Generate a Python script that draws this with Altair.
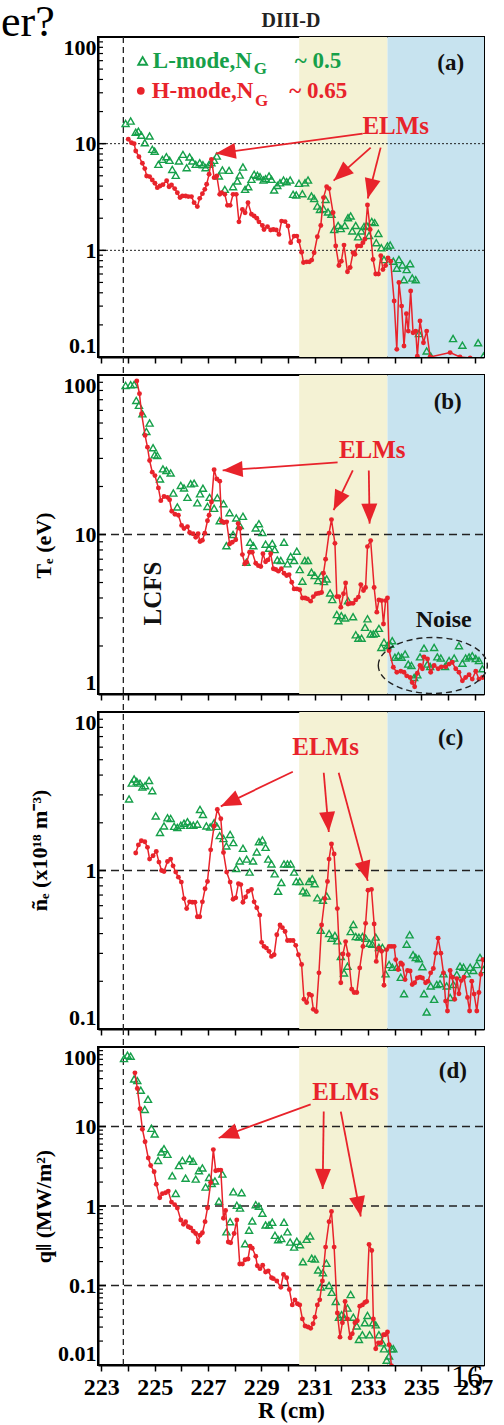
import math
import altair as alt
import pandas as pd

FONT = "Liberation Serif"
GREEN = "#16a04a"
RED = "#e8232b"
YELLOW = "#f4f2d4"
BLUE = "#c7e3ef"
BLACK = "#111111"

R_TICKS = list(range(223, 238))
X_RANGE = [222.875, 237.35]
SHADE_YELLOW = [230.42, 233.73]
SHADE_BLUE = [233.73, 237.35]
LCFS_R = 223.825

# ---------------- panel (a) ----------------
A_L = [(223.91,15.5),(224.10,16.3),(224.29,12.8),(224.39,13.1),(224.50,12.0),(224.63,10.2),(224.81,11.8),(224.91,8.85),(225.00,8.5),(225.14,6.4),(225.29,7.13),(225.44,7.55),(225.56,6.98),(225.66,5.74),(225.79,5.05),(225.91,6.88),(226.06,7.94),(226.20,5.96),(226.31,7.5),(226.41,6.88),(226.54,6.4),(226.69,6.63),(226.81,6.36),(226.91,5.96),(227.04,6.4),(227.13,6.63),(227.23,6.98),(227.33,7.66),(227.41,4.98),(227.54,5.66),(227.63,3.73),(227.79,5.62),(227.94,3.95),(228.10,4.47),(228.19,5.08),(228.31,6.04),(228.39,3.73),(228.51,3.95),(228.63,4.63),(228.73,5.16),(228.85,5.05),(228.95,4.91),(229.08,4.56),(229.16,4.7),(229.29,4.98),(229.38,4.63),(229.48,3.68),(229.60,4.06),(229.70,4.3),(229.83,4.56),(229.95,4.4),(230.08,4.56),(230.19,3.35),(230.31,3.3),(230.41,4.25),(230.54,3.4),(230.64,4.3),(230.75,4.56),(230.88,3.23),(230.98,3.07),(231.10,2.6),(231.20,2.42),(231.33,2.46),(231.41,3.0),(231.50,2.29),(231.63,2.18),(231.73,1.57),(231.88,1.71),(231.98,1.6),(232.13,1.71),(232.25,2.02),(232.35,2.1),(232.41,1.52),(232.54,1.71),(232.63,1.34),(232.75,1.52),(232.85,1.67),(232.95,1.71),(233.04,1.38),(233.14,1.86),(233.25,1.82),(233.31,1.18),(233.39,1.44),(233.50,1.06),(233.60,0.82),(233.73,1.1),(233.83,1.12),(233.95,0.79),(234.08,0.68),(234.16,0.82),(234.29,0.73),(234.35,0.53),(234.45,0.66),(234.58,0.75),(234.66,0.55),(234.79,0.53),(234.91,0.166),(235.20,0.114),(235.35,0.102),(236.19,0.149),(236.54,0.129),(237.13,0.136),(237.33,0.102)]
A_H = [(224.01,11.0),(224.13,10.2),(224.23,10.0),(224.29,8.54),(224.41,7.55),(224.54,6.55),(224.63,5.84),(224.70,4.98),(224.81,4.91),(224.91,4.56),(225.01,4.25),(225.10,3.87),(225.20,4.01),(225.31,4.13),(225.45,4.5),(225.54,3.95),(225.63,4.1),(225.75,3.79),(225.85,3.47),(225.95,3.12),(226.04,3.23),(226.16,3.23),(226.26,3.19),(226.38,3.19),(226.48,2.8),(226.60,2.57),(226.69,3.07),(226.79,3.4),(226.88,3.73),(226.95,4.16),(227.04,5.16),(227.13,7.13),(227.23,4.8),(227.33,4.98),(227.44,3.35),(227.51,3.47),(227.63,3.35),(227.73,2.64),(227.83,2.64),(227.94,3.35),(228.06,3.35),(228.16,1.85),(228.29,2.42),(228.39,2.25),(228.50,2.8),(228.63,2.18),(228.73,2.1),(228.83,2.0),(228.91,1.85),(229.04,1.71),(229.10,1.57),(229.23,1.67),(229.35,1.55),(229.45,1.57),(229.56,1.55),(229.66,1.41),(229.76,1.88),(229.89,1.86),(230.00,1.69),(230.10,1.18),(230.23,1.36),(230.33,1.36),(230.41,1.22),(230.51,0.96),(230.58,0.77),(230.70,0.78),(230.80,0.78),(230.89,0.81),(230.98,0.95),(231.10,1.34),(231.23,1.71),(231.33,3.12),(231.45,3.95),(231.54,3.79),(231.69,2.25),(231.79,1.1),(231.91,0.72),(232.00,0.79),(232.10,1.12),(232.23,0.63),(232.33,0.69),(232.44,0.95),(232.51,0.92),(232.60,1.1),(232.73,1.1),(232.81,1.18),(232.88,1.27),(232.98,2.66),(233.08,1.57),(233.19,0.82),(233.29,0.6),(233.39,0.6),(233.48,0.89),(233.56,0.66),(233.66,0.72),(233.75,0.85),(233.85,0.79),(233.98,0.335),(234.08,0.118),(234.16,0.5),(234.26,0.30),(234.35,0.127),(234.44,0.255),(234.51,0.175),(234.60,0.416),(234.69,0.169),(234.79,0.175),(234.85,0.102),(234.95,0.218),(235.08,0.136),(235.20,0.175),(235.33,0.10),(236.08,0.11),(236.45,0.10),(236.83,0.098)]

# ---------------- panel (b) Te ----------------
B_L = [(223.91,86),(224.10,87),(224.23,87.3),(224.31,69.3),(224.41,64.6),(224.54,57.1),(224.69,44.3),(224.81,50),(224.94,35),(225.00,31.6),(225.10,31.3),(225.20,22.3),(225.31,25.8),(225.44,25.2),(225.60,24.3),(225.70,18.2),(225.85,14.9),(225.98,20.3),(226.10,19.6),(226.23,17.1),(226.35,20.8),(226.48,21.0),(226.60,15.8),(226.70,18.0),(226.81,19.5),(226.98,15.0),(227.06,17.1),(227.23,14.6),(227.35,17.0),(227.44,12.2),(227.58,15.6),(227.69,8.5),(227.81,13.7),(227.94,10.0),(228.06,12.7),(228.19,11.4),(228.31,13.0),(228.44,6.7),(228.58,8.95),(228.70,8.5),(228.79,11.0),(228.91,11.7),(229.04,10.3),(229.16,8.7),(229.29,8.2),(229.41,8.8),(229.50,8.05),(229.60,6.93),(229.73,6.87),(229.85,8.95),(229.98,6.55),(230.10,7.28),(230.23,6.87),(230.33,7.86),(230.44,6.03),(230.54,5.1),(230.63,6.87),(230.75,6.87),(230.88,5.8),(231.00,5.53),(231.13,5.14),(231.25,5.53),(231.35,5.07),(231.45,5.27),(231.58,4.3),(231.66,3.91),(231.83,3.15),(231.89,2.88),(232.00,3.1),(232.14,3.0),(232.25,3.85),(232.44,3.05),(232.54,2.35),(232.64,2.24),(232.76,2.24),(232.89,2.62),(232.98,2.96),(233.10,2.38),(233.20,2.38),(233.29,2.4),(233.41,2.58),(233.50,1.96),(233.60,2.11),(233.73,2.01),(233.83,2.05),(233.91,2.16),(234.01,1.7),(234.14,1.74),(234.26,1.7),(234.39,1.78),(234.51,1.54),(234.63,1.51),(234.73,1.27),(234.85,1.32),(234.95,1.71),(235.10,1.94),(235.23,1.54),(235.33,1.49),(235.48,1.96),(235.60,1.71),(235.73,1.68),(235.89,1.49),(236.04,1.62),(236.23,1.68),(236.41,2.01),(236.54,1.56),(236.66,1.68),(236.79,1.71),(236.91,1.74),(237.04,1.67),(237.16,1.62),(237.29,1.44)]
B_H = [(224.33,91.7),(224.43,76.4),(224.51,57.1),(224.64,41.8),(224.73,35.3),(224.81,29.1),(224.91,24.6),(225.01,23.4),(225.14,19.6),(225.23,16.3),(225.35,17.3),(225.48,17.1),(225.56,16.5),(225.64,14.0),(225.76,13.4),(225.89,13.2),(226.01,11.4),(226.10,10.9),(226.23,11.2),(226.31,10.3),(226.44,10.1),(226.54,9.6),(226.63,10.1),(226.70,9.04),(226.79,9.2),(226.88,10.2),(226.98,12.2),(227.04,13.2),(227.13,16.0),(227.23,25.5),(227.33,22.3),(227.44,21.6),(227.51,12.1),(227.60,11.9),(227.70,12.0),(227.81,8.72),(227.91,8.95),(228.04,9.27),(228.13,11.7),(228.20,10.9),(228.29,7.48),(228.38,6.55),(228.45,6.7),(228.56,7.74),(228.66,7.74),(228.79,6.6),(228.89,6.38),(228.98,6.3),(229.06,7.57),(229.16,6.75),(229.25,6.93),(229.35,7.57),(229.45,6.1),(229.54,6.03),(229.64,5.89),(229.75,6.1),(229.85,5.71),(229.95,5.53),(230.04,5.6),(230.14,5.02),(230.23,4.56),(230.33,4.56),(230.44,4.5),(230.54,4.0),(230.64,4.0),(230.73,3.95),(230.85,3.82),(230.95,4.08),(231.06,4.25),(231.16,4.28),(231.26,4.33),(231.33,5.71),(231.41,7.0),(231.54,10.2),(231.63,12.4),(231.76,8.8),(231.83,4.08),(231.91,4.08),(231.98,3.5),(232.08,4.25),(232.16,4.96),(232.25,3.67),(232.35,3.7),(232.44,3.7),(232.54,3.89),(232.64,4.05),(232.73,4.85),(232.83,4.46),(232.91,4.65),(232.98,8.4),(233.10,9.16),(233.23,4.65),(233.33,3.26),(233.41,3.89),(233.51,3.85),(233.58,2.75),(233.66,3.85),(233.73,4.0),(233.79,1.87),(233.95,1.47),(234.08,1.37),(234.23,1.39),(234.35,1.37),(234.45,1.3),(234.58,1.27),(234.66,1.18),(234.75,1.11),(234.85,1.35),(234.95,1.51),(235.04,1.44),(235.10,1.71),(235.23,1.66),(235.35,1.37),(235.48,1.51),(235.63,1.44),(235.75,1.48),(235.91,1.48),(236.04,1.54),(236.16,1.58),(236.29,1.44),(236.41,1.37),(236.54,1.21),(236.66,1.27),(236.79,1.32),(236.91,1.24),(237.04,1.39),(237.16,1.24),(237.29,1.27)]

# ---------------- panel (c) n_e fluctuation ----------------
C_L = [(224.04,2.83),(224.14,3.56),(224.23,3.78),(224.33,3.65),(224.45,3.56),(224.54,3.36),(224.64,3.43),(224.79,3.7),(224.91,3.19),(225.04,2.21),(225.20,1.74),(225.35,1.91),(225.48,2.15),(225.60,2.13),(225.73,1.9),(225.85,1.87),(225.98,1.93),(226.10,1.99),(226.23,2.03),(226.33,1.93),(226.45,1.93),(226.60,1.96),(226.70,2.43),(226.81,2.26),(226.94,1.91),(227.08,1.88),(227.23,2.0),(227.33,1.9),(227.44,1.66),(227.58,1.59),(227.69,1.43),(227.83,1.69),(227.95,1.5),(228.06,1.03),(228.19,1.15),(228.31,1.38),(228.45,1.18),(228.56,0.977),(228.69,1.15),(228.83,1.31),(228.91,1.52),(229.04,1.56),(229.16,1.4),(229.26,1.18),(229.38,1.1),(229.50,0.953),(229.63,0.74),(229.75,0.84),(229.85,1.1),(229.98,1.1),(230.10,1.1),(230.23,0.977),(230.31,0.853),(230.44,0.853),(230.56,0.743),(230.69,0.725),(230.79,0.853),(230.91,0.887),(231.00,0.826),(231.10,0.672),(231.23,0.42),(231.31,0.65),(231.45,0.69),(231.54,0.40),(231.63,0.374),(231.76,0.389),(231.85,0.36),(231.98,0.287),(232.10,0.226),(232.23,0.249),(232.35,0.412),(232.45,0.457),(232.54,0.383),(232.66,0.38),(232.79,0.383),(232.91,0.374),(233.06,0.348),(233.16,0.343),(233.29,0.38),(233.41,0.327),(233.54,0.327),(233.66,0.223),(233.79,0.255),(233.91,0.245),(234.08,0.245),(234.23,0.212),(234.35,0.167),(234.45,0.343),(234.56,0.393),(234.69,0.294),(234.79,0.283),(234.91,0.278),(235.04,0.247),(235.10,0.167),(235.20,0.128),(235.35,0.187),(235.48,0.154),(235.58,0.191),(235.70,0.193),(235.83,0.223),(235.95,0.187),(236.08,0.158),(236.20,0.191),(236.33,0.221),(236.45,0.249),(236.58,0.245),(236.70,0.223),(236.83,0.245),(236.95,0.234),(237.08,0.255),(237.20,0.283),(237.33,0.237)]
C_H = [(224.29,1.29),(224.39,1.45),(224.50,1.54),(224.63,1.52),(224.73,1.4),(224.81,1.18),(224.94,1.24),(225.06,1.32),(225.16,1.13),(225.26,1.0),(225.35,0.986),(225.48,1.14),(225.60,1.18),(225.69,1.07),(225.79,0.977),(225.89,0.908),(226.00,0.845),(226.10,0.665),(226.20,0.575),(226.31,0.634),(226.41,0.63),(226.51,0.63),(226.60,0.511),(226.69,0.511),(226.79,0.634),(226.89,0.767),(226.98,0.853),(227.10,1.35),(227.23,1.91),(227.35,2.43),(227.48,2.12),(227.58,1.3),(227.70,0.977),(227.83,0.845),(227.94,0.659),(228.04,0.672),(228.14,0.826),(228.23,0.815),(228.31,0.63),(228.41,0.681),(228.51,0.74),(228.63,0.76),(228.73,0.634),(228.83,0.582),(228.94,0.523),(229.01,0.352),(229.10,0.332),(229.19,0.324),(229.29,0.309),(229.38,0.287),(229.48,0.294),(229.58,0.393),(229.70,0.453),(229.79,0.436),(229.89,0.412),(229.98,0.362),(230.08,0.362),(230.19,0.362),(230.29,0.337),(230.39,0.294),(230.51,0.255),(230.60,0.154),(230.70,0.147),(230.79,0.166),(230.88,0.163),(230.95,0.133),(231.06,0.129),(231.16,0.226),(231.26,0.453),(231.38,0.665),(231.48,0.853),(231.54,1.18),(231.63,1.47),(231.73,1.27),(231.85,0.575),(231.98,0.196),(232.06,0.297),(232.16,0.356),(232.26,0.294),(232.39,0.178),(232.48,0.17),(232.58,0.17),(232.69,0.243),(232.81,0.332),(232.91,0.464),(233.00,0.75),(233.13,0.76),(233.23,0.46),(233.31,0.267),(233.41,0.324),(233.51,0.309),(233.60,0.189),(233.70,0.317),(233.79,0.332),(233.88,0.332),(233.98,0.332),(234.04,0.274),(234.13,0.237),(234.23,0.261),(234.29,0.255),(234.39,0.205),(234.48,0.234),(234.58,0.232),(234.66,0.191),(234.75,0.196),(234.85,0.21),(234.95,0.212),(235.04,0.21),(235.16,0.196),(235.25,0.2),(235.35,0.226),(235.45,0.241),(235.54,0.301),(235.63,0.374),(235.73,0.301),(235.83,0.226),(235.91,0.15),(235.98,0.13),(236.08,0.234),(236.16,0.212),(236.25,0.154),(236.33,0.208),(236.41,0.167),(236.50,0.202),(236.60,0.212),(236.73,0.158),(236.81,0.13),(236.89,0.2),(236.98,0.166),(237.08,0.13),(237.16,0.17),(237.23,0.221),(237.31,0.274)]

# ---------------- panel (d) q_par ----------------
D_L = [(223.85,71.6),(223.98,78.8),(224.10,76.7),(224.23,39.6),(224.35,37.8),(224.48,28.6),(224.63,16.4),(224.75,22.0),(224.88,9.5),(225.00,8.05),(225.13,3.74),(225.25,4.78),(225.35,5.27),(225.48,4.47),(225.66,2.4),(225.79,1.44),(225.91,3.23),(226.04,3.74),(226.16,2.24),(226.31,3.93),(226.44,3.66),(226.54,2.18),(226.66,2.78),(226.79,3.01),(226.91,1.73),(227.04,2.29),(227.14,1.92),(227.26,2.07),(227.41,1.15),(227.54,2.52),(227.69,0.473),(227.83,0.636),(227.95,1.51),(228.08,1.02),(228.20,0.943),(228.26,1.47),(228.39,0.336),(228.54,0.497),(228.66,0.649),(228.79,1.04),(228.91,0.994),(229.04,0.813),(229.16,0.577),(229.29,0.577),(229.41,0.624),(229.51,0.428),(229.63,0.377),(229.75,0.389),(229.85,0.624),(229.98,0.473),(230.08,0.352),(230.23,0.304),(230.33,0.36),(230.45,0.326),(230.56,0.199),(230.70,0.381),(230.83,0.421),(230.89,0.22),(231.01,0.215),(231.13,0.157),(231.23,0.096),(231.31,0.145),(231.44,0.191),(231.54,0.1),(231.64,0.082),(231.79,0.063),(231.91,0.040),(232.01,0.043),(232.10,0.040),(232.23,0.052),(232.35,0.077),(232.45,0.040),(232.58,0.031),(232.66,0.021),(232.79,0.024),(232.88,0.034),(232.98,0.042),(233.06,0.024),(233.19,0.034),(233.29,0.032),(233.41,0.024),(233.54,0.019),(233.60,0.016),(233.70,0.0115),(233.79,0.013),(233.88,0.016),(233.95,0.016)]
D_H = [(224.26,47.3),(224.35,30.1),(224.45,16.7),(224.54,9.24),(224.64,6.43),(224.76,4.01),(224.85,3.23),(224.98,2.7),(225.06,1.88),(225.19,1.27),(225.29,1.43),(225.41,1.47),(225.51,1.54),(225.63,1.12),(225.75,1.04),(225.85,0.943),(225.98,0.668),(226.08,0.588),(226.16,0.636),(226.26,0.548),(226.35,0.53),(226.45,0.483),(226.54,0.451),(226.63,0.352),(226.70,0.428),(226.79,0.46),(226.89,0.636),(226.98,0.943),(227.10,1.97),(227.20,5.12),(227.29,2.78),(227.39,2.83),(227.48,2.83),(227.58,0.701),(227.66,0.879),(227.76,0.352),(227.85,0.345),(227.98,0.451),(228.08,0.668),(228.19,0.186),(228.29,0.186),(228.39,0.211),(228.50,0.215),(228.58,0.313),(228.66,0.294),(228.79,0.233),(228.85,0.177),(228.95,0.163),(229.05,0.18),(229.16,0.148),(229.26,0.152),(229.38,0.125),(229.45,0.122),(229.58,0.114),(229.73,0.095),(229.83,0.138),(229.95,0.125),(230.05,0.089),(230.16,0.057),(230.26,0.066),(230.35,0.059),(230.44,0.057),(230.54,0.038),(230.64,0.031),(230.75,0.030),(230.85,0.029),(230.94,0.033),(231.01,0.040),(231.10,0.057),(231.19,0.066),(231.29,0.114),(231.41,0.304),(231.54,0.636),(231.63,0.855),(231.73,0.304),(231.85,0.045),(231.95,0.0224),(232.04,0.034),(232.14,0.063),(232.23,0.038),(232.33,0.022),(232.41,0.0247),(232.51,0.034),(232.60,0.036),(232.69,0.055),(232.79,0.057),(232.88,0.061),(232.95,0.063),(233.04,0.329),(233.14,0.275),(233.20,0.038),(233.29,0.016),(233.39,0.019),(233.48,0.019),(233.58,0.024),(233.64,0.024),(233.73,0.026),(233.79,0.018),(233.88,0.0098)]

# arrows: (R_start, v_start, R_tip, v_tip)
ARROWS_A = [(232.8,12.4,227.29,8.07),(233.1,9.18,231.71,4.5),(233.475,9.18,232.99,3.06)]
ARROWS_B = [(231.86,28.3,227.55,25.2),(232.43,25.2,231.71,14.2),(233.03,25.2,233.06,11.7)]
ARROWS_C = [(230.18,4.2,227.48,2.54),(231.34,4.14,231.53,1.75),(231.9,4.14,232.99,0.86)]
ARROWS_D = [(230.85,19.0,227.4,7.17),(231.34,15.4,231.3,1.64),(231.98,15.4,232.73,0.738)]

W = 386
ARROW_SHAPE = "M0,0L-2,-0.8L-2,0.8Z"
ELLIPSE_SHAPE = "M-1,0C-1,-0.284,-0.552,-0.514,0,-0.514C0.552,-0.514,1,-0.284,1,0C1,0.284,0.552,0.514,0,0.514C-0.552,0.514,-1,0.284,-1,0Z"


def px(R):
    return (R - X_RANGE[0]) / (X_RANGE[1] - X_RANGE[0]) * W


def py(v, lo, hi, H):
    return H * (math.log10(hi) - math.log10(v)) / (math.log10(hi) - math.log10(lo))


def pairs_df(pairs):
    return pd.DataFrame({"R": [p[0] for p in pairs], "v": [p[1] for p in pairs],
                         "i": list(range(len(pairs)))})


def panel(lo, hi, H, yvals, low, high, refs, ref_dash, ref_width, arrows, elm, tag,
          ytitle=None, tpos=(0, 0), xlabels=False, lcfs_top=-18, extra_fn=None):
    xscale = alt.Scale(domain=X_RANGE, nice=False, zero=False)
    yscale = alt.Scale(type="log", domain=[lo, hi], nice=False)
    xkw = dict(values=R_TICKS, grid=False, tickSize=6, tickWidth=1.5, tickColor="black",
               labelExpr="datum.value % 2 == 1 ? datum.label : ''")
    if xlabels:
        xaxis = alt.Axis(**xkw, labels=True, labelFontSize=24, labelPadding=4,
                         title="R (cm)", titleFontSize=23, titlePadding=0)
    else:
        xaxis = alt.Axis(**xkw, labels=False, title=None)
    ykw = dict(values=yvals, format="~g", grid=False, ticks=False, labelFontSize=22,
               labelPadding=2, labelFlush=True)
    if ytitle:
        yaxis = alt.Axis(**ykw, title=ytitle, titleFontSize=22, titleX=tpos[0],
                         titleY=tpos[1], titleAngle=270, titleAlign="center",
                         titleBaseline="middle")
    else:
        yaxis = alt.Axis(**ykw, title=None)
    X = alt.X("R:Q", scale=xscale, axis=xaxis)
    Y = alt.Y("v:Q", scale=yscale, axis=yaxis)

    layers = []
    shade = pd.DataFrame({"R": [SHADE_YELLOW[0], SHADE_BLUE[0]],
                          "R2": [SHADE_YELLOW[1], SHADE_BLUE[1]],
                          "c": [YELLOW, BLUE]})
    layers.append(alt.Chart(shade).mark_rect().encode(
        x=X, x2="R2:Q", y=alt.value(0), y2=alt.value(H),
        color=alt.Color("c:N", scale=None)))
    layers.append(alt.Chart(pd.DataFrame({"v": refs})).mark_rule(
        color="#222222", strokeDash=ref_dash, strokeWidth=ref_width).encode(
        y=Y, x=alt.value(0), x2=alt.value(W)))
    layers.append(alt.Chart(pd.DataFrame({"R": [LCFS_R]})).mark_rule(
        color="#222222", strokeDash=[6, 4], strokeWidth=1.3).encode(
        x=X, y=alt.value(lcfs_top), y2=alt.value(H)))
    layers.append(alt.Chart(pairs_df(low)).mark_point(
        shape="triangle-up", filled=False, color=GREEN, size=50, strokeWidth=1.4,
        opacity=1, clip=True).encode(x=X, y=Y))
    layers.append(alt.Chart(pairs_df(high)).mark_line(
        color=RED, strokeWidth=1.5, clip=True).encode(x=X, y=Y, order="i:Q"))
    layers.append(alt.Chart(pairs_df(high)).mark_circle(
        color=RED, size=24, opacity=1, clip=True).encode(x=X, y=Y))

    rows, heads = [], []
    for (r1, v1, r2, v2) in arrows:
        rows.append({"R": r1, "v": v1, "R2": r2, "v2": v2})
        dx = px(r2) - px(r1)
        dy = py(v2, lo, hi, H) - py(v1, lo, hi, H)
        heads.append({"R": r2, "v": v2, "ang": math.degrees(math.atan2(dy, dx)) % 360})
    layers.append(alt.Chart(pd.DataFrame(rows)).mark_rule(
        color=RED, strokeWidth=1.8).encode(x=X, y=Y, x2="R2:Q", y2="v2:Q"))
    layers.append(alt.Chart(pd.DataFrame(heads)).mark_point(
        shape=ARROW_SHAPE, size=400, filled=True, color=RED, opacity=1,
        strokeWidth=0).encode(x=X, y=Y, angle=alt.Angle("ang:Q", scale=None)))

    def txt(R, v, s, size, color, align="center", baseline="middle", angle=0,
            weight="bold"):
        return alt.Chart(pd.DataFrame({"R": [R], "v": [v], "t": [s]})).mark_text(
            font=FONT, fontSize=size, fontWeight=weight, color=color, align=align,
            baseline=baseline, angle=angle).encode(x=X, y=Y, text="t:N")

    def ptxt(x, y, s, size, color, align="center", baseline="middle", weight="bold"):
        return alt.Chart(pd.DataFrame({"t": [s]})).mark_text(
            font=FONT, fontSize=size, fontWeight=weight, color=color, align=align,
            baseline=baseline).encode(x=alt.value(x), y=alt.value(y), text="t:N")

    layers.append(txt(elm[0], elm[1], "ELMs", 25, RED))
    layers.append(txt(tag[0], tag[1], tag[2], 23, BLACK))
    if extra_fn is not None:
        layers += extra_fn(X, Y, txt, ptxt)

    # inward y ticks
    majors, minors = [], []
    for k in range(-3, 4):
        for m in range(1, 10):
            val = m * 10 ** k
            if lo <= val <= hi * 1.0001:
                (majors if m == 1 else minors).append(val)
    layers.append(alt.Chart(pd.DataFrame({"v": majors})).mark_rule(
        color="black", strokeWidth=1.5).encode(y=Y, x=alt.value(0), x2=alt.value(8)))
    layers.append(alt.Chart(pd.DataFrame({"v": minors})).mark_rule(
        color="black", strokeWidth=1.2).encode(y=Y, x=alt.value(0), x2=alt.value(5)))

    return alt.layer(*layers).properties(width=W, height=H)


def extra_a(X, Y, txt, ptxt):
    out = []
    out.append(alt.Chart(pd.DataFrame({"R": [224.55], "v": [59.7]})).mark_point(
        shape="triangle-up", filled=False, color=GREEN, size=80, strokeWidth=1.8,
        opacity=1).encode(x=X, y=Y))
    out.append(alt.Chart(pd.DataFrame({"R": [224.48], "v": [31.3]})).mark_circle(
        color=RED, size=60, opacity=1).encode(x=X, y=Y))
    out.append(txt(224.93, 59.7, "L-mode,N", 23, GREEN, align="left"))
    out.append(txt(228.72, 50.0, "G", 17, GREEN, align="left"))
    out.append(txt(230.25, 59.7, "~ 0.5", 23, GREEN, align="left"))
    out.append(txt(224.89, 31.3, "H-mode,N", 23, RED, align="left"))
    out.append(txt(228.76, 25.2, "G", 17, RED, align="left"))
    out.append(txt(230.05, 31.3, "~ 0.65", 23, RED, align="left"))
    out.append(ptxt(193, -16, "DIII-D", 20, "#222222"))
    out.append(ptxt(-97, -1, "er?", 44, "black", align="left", baseline="alphabetic",
                    weight="normal"))
    return out


def extra_b(X, Y, txt, ptxt):
    out = []
    out.append(txt(224.93, 4.27, "LCFS", 25, BLACK, angle=270))
    out.append(txt(235.84, 2.93, "Noise", 24, BLACK))
    out.append(alt.Chart(pd.DataFrame({"R": [235.43], "v": [1.51]})).mark_point(
        shape=ELLIPSE_SHAPE, size=11881, filled=False, color="#222222",
        strokeWidth=1.4, strokeDash=[6, 4], opacity=1).encode(x=X, y=Y))
    return out


def extra_d(X, Y, txt, ptxt):
    return [ptxt(369, 330, "16", 32, "black", weight="normal")]


pa = panel(0.1, 100, 320, [0.1, 1, 10, 100], A_L, A_H, [10, 1], [2, 2], 1.0,
           ARROWS_A, (234.04, 14.5), (236.1, 57, "(a)"), lcfs_top=0, extra_fn=extra_a)
pb = panel(1, 100, 319, [1, 10, 100], B_L, B_H, [10], [8, 5], 1.5,
           ARROWS_B, (233.16, 33.7), (235.99, 67.3, "(b)"),
           ytitle="Tₑ (eV)", tpos=(-55, 170), extra_fn=extra_b)
pc = panel(0.1, 10, 317, [0.1, 1, 10], C_L, C_H, [1], [8, 5], 1.5,
           ARROWS_C, (231.41, 6.01), (236.1, 6.84, "(c)"),
           ytitle="ñₑ (x10¹⁸ m⁻³)", tpos=(-59, 138))
pd_ = panel(0.01, 100, 318, [0.01, 0.1, 1, 10, 100], D_L, D_H, [10, 1, 0.1], [8, 5], 1.5,
            ARROWS_D, (232.16, 27), (236.18, 50, "(d)"),
            ytitle="q‖ (MW/m²)", tpos=(-55, 159), xlabels=True, extra_fn=extra_d)

chart = alt.vconcat(pa, pb, pc, pd_, spacing=18, bounds="flush", padding=0).configure_view(
    stroke="black", strokeWidth=2
).configure_axis(
    domainColor="black", domainWidth=2, labelFont=FONT, labelFontWeight="bold",
    labelColor="black", titleFont=FONT, titleFontWeight="bold", titleColor="black"
)

chart.save("out.html", embed_options={"renderer": "svg", "actions": False})
